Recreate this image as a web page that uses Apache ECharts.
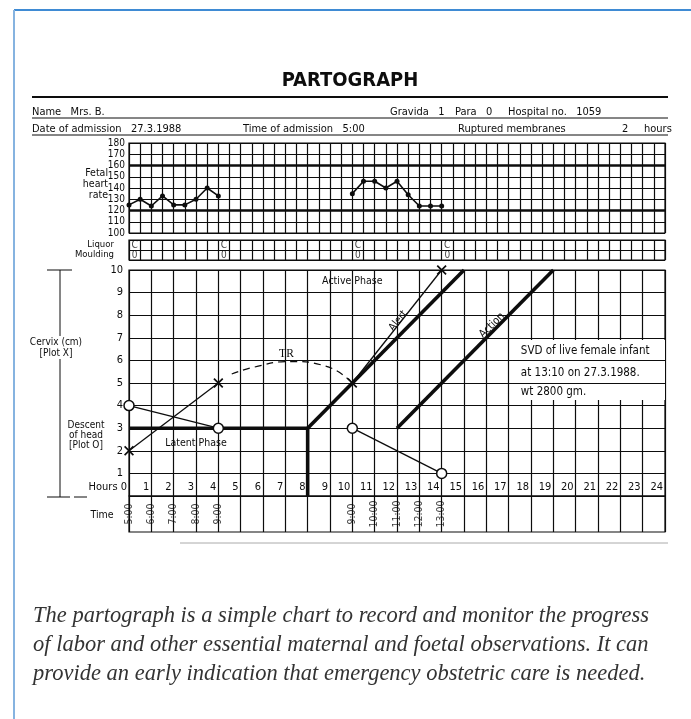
<!DOCTYPE html>
<html><head><meta charset="utf-8">
<script src="https://cdn.jsdelivr.net/npm/echarts@6/dist/echarts.min.js"></script>
<style>html,body{margin:0;padding:0;background:#fff}#c{width:691px;height:719px}</style>
</head><body><div id="c"></div>
<script>
// ---------------- data ----------------
const hourTicks = [0,1,2,3,4,5,6,7,8,9,10,11,12,13,14,15,16,17,18,19,20,21,22,23,24];
const fhrTicks = [100,110,120,130,140,150,160,170,180];
const fhrHoursA = [0,0.5,1,1.5,2,2.5,3,3.5,4];
const fhrRateA  = [125,130,124,133,125,125,130,140,133];
const fhrHoursB = [10,10.5,11,11.5,12,12.5,13,13.5,14];
const fhrRateB  = [135,146,146,140,146,134,124,124,124];
const fhrNormalLimits = [120,160];
const liquorRows = ['Moulding','Liquor'];
const obsHours = [0,4,10,14];
const liquorCodes = ['C','C','C','C'];
const mouldingCodes = ['0','0','0','0'];
const cervixHours = [0,4,10,14];
const cervixCm    = [2,5,5,10];
const descentHours = [0,4,10,14];
const descentFifths = [4,3,3,1];
const latentHours = [0,8];
const latentCm    = [3,3];
const latentEndHours = [8,8];
const latentEndCm    = [3,0];
const alertHours = [8,15];
const alertCm    = [3,10];
const actionHours = [12,19];
const actionCm    = [3,10];
const transferHours = [4.6,5.6,7.2,8.8,10];
const transferCm    = [5.4,5.7,5.95,5.75,5.0];
const timeHours  = [0,1,2,3,4,10,11,12,13,14];
const timeLabels = ['5:00','6:00','7:00','8:00','9:00','9:00','10:00','11:00','12:00','13:00'];
const deliveryNote = ['SVD of live female infant','at 13:10 on 27.3.1988.','wt 2800 gm.'];

// ---------------- helpers ----------------
const zip = (xs, ys) => xs.map((x, i) => [x, ys[i]]);
const NARROW = "'Liberation Sans Narrow','DejaVu Sans Condensed','Liberation Sans',sans-serif";
const INK = '#0d0d0d';
const X0 = 129, XW = 536;
const hMin = hourTicks[0], hMax = hourTicks[hourTicks.length - 1];

const gridStyle = {show:true, borderColor:INK, borderWidth:1.2, backgroundColor:'#fff'};
const splitL = {show:true, lineStyle:{color:INK, width:1.2}};
function xAx(gi, interval, extra) {
  return Object.assign({type:'value', gridIndex:gi, min:hMin, max:hMax, interval,
    axisTick:{show:false}, axisLine:{show:false}, axisLabel:{show:false}, splitLine:splitL}, extra || {});
}
const thick = {color:INK, width:3.6};
function lineSeries(gi, data, extra) {
  return Object.assign({type:'line', xAxisIndex:gi, yAxisIndex:gi, data, symbol:'none',
    lineStyle:{color:INK, width:1.3}, itemStyle:{color:INK}, animation:false, silent:true, z:4}, extra || {});
}
const CROSS = 'path://M0,1.2L1.2,0L5,3.8L8.8,0L10,1.2L6.2,5L10,8.8L8.8,10L5,6.2L1.2,10L0,8.8L3.8,5Z';
const note = (text, coord, extra) => ({coord, symbol:'circle', symbolSize:1, itemStyle:{color:'rgba(0,0,0,0)'},
  label:Object.assign({show:true, formatter:text, position:'inside', color:INK, fontFamily:NARROW, fontSize:10.5}, extra || {})});

const txt = (text, x, y, opt) => ({type:'text', x, y, z:10,
  style:Object.assign({text, font:'11px ' + NARROW, fill:INK, align:'left', verticalAlign:'middle'}, opt || {})});
const ln = (x1, y1, x2, y2, w, c) => ({type:'line', z:9, shape:{x1, y1, x2, y2}, style:{stroke:c || INK, lineWidth:w || 1}});
const CAP = 'italic 22.5px "Liberation Serif", serif';

const option = {
  animation:false,
  backgroundColor:'#fff',
  grid:[
    Object.assign({left:X0, top:143, width:XW, height:90}, gridStyle),
    Object.assign({left:X0, top:240, width:XW, height:20}, gridStyle),
    Object.assign({left:X0, top:270, width:XW, height:226}, gridStyle),
    Object.assign({left:X0, top:496, width:XW, height:36}, gridStyle)
  ],
  xAxis:[
    xAx(0, 0.5),
    xAx(1, 0.5),
    xAx(2, 1, {axisLabel:{show:true, inside:true, margin:3, align:'right', verticalAlign:'bottom',
      padding:[0,2,0,0], fontSize:11, fontFamily:NARROW, color:INK, showMinLabel:true, showMaxLabel:true,
      formatter:v => v === hMin ? 'Hours ' + v : String(v)}}),
    xAx(3, 1)
  ],
  yAxis:[
    {type:'value', gridIndex:0, min:fhrTicks[0], max:fhrTicks[fhrTicks.length-1], interval:fhrTicks[1]-fhrTicks[0],
     axisLine:{show:false}, axisTick:{show:false}, splitLine:splitL,
     axisLabel:{margin:4, fontSize:10, fontFamily:NARROW, color:INK}},
    {type:'category', gridIndex:1, data:liquorRows, axisLine:{show:false}, axisTick:{show:false},
     splitLine:{show:true, interval:0, lineStyle:{color:INK, width:1.2}},
     axisLabel:{margin:15, fontSize:9.5, fontFamily:NARROW, color:INK, interval:0}},
    {type:'value', gridIndex:2, min:0, max:10, interval:1, axisLine:{show:false}, axisTick:{show:false},
     splitLine:splitL, axisLabel:{margin:6, fontSize:11, fontFamily:NARROW, color:INK,
     formatter:v => v === 0 ? '' : String(v)}},
    {type:'value', gridIndex:3, min:0, max:1, show:false, splitLine:{show:false}}
  ],
  series:[
    // fetal heart rate
    lineSeries(0, [], {markLine:{silent:true, symbol:'none', label:{show:false},
      lineStyle:{color:INK, width:2.6, type:'solid'}, data:fhrNormalLimits.map(v => ({yAxis:v}))}}),
    lineSeries(0, zip(fhrHoursA, fhrRateA), {symbol:'circle', symbolSize:5, lineStyle:{color:INK, width:1.6}, z:6}),
    lineSeries(0, zip(fhrHoursB, fhrRateB), {symbol:'circle', symbolSize:5, lineStyle:{color:INK, width:1.6}, z:6}),
    // liquor / moulding
    {type:'scatter', xAxisIndex:1, yAxisIndex:1, silent:true, symbolSize:8, itemStyle:{color:'rgba(0,0,0,0)'},
     data:obsHours.map((h, i) => [h + 0.25, 1, liquorCodes[i]]),
     label:{show:true, position:'inside', formatter:p => p.data[2], fontSize:10, fontFamily:NARROW, color:INK}},
    {type:'scatter', xAxisIndex:1, yAxisIndex:1, silent:true, symbolSize:8, itemStyle:{color:'rgba(0,0,0,0)'},
     data:obsHours.map((h, i) => [h + 0.25, 0, mouldingCodes[i]]),
     label:{show:true, position:'inside', formatter:p => p.data[2], fontSize:10, fontFamily:NARROW, color:INK}},
    // delivery note box (white patch with its ruled lines)
    lineSeries(2, [], {z:2, markArea:{silent:true, itemStyle:{color:'#fff'},
      data:[[{coord:[17.15, 6.9]}, {coord:[hMax, 4.25]}]]}}),
    lineSeries(2, [], {z:3, markLine:{silent:true, symbol:'none', label:{show:false},
      lineStyle:{color:INK, width:1.2, type:'solid'},
      data:[[{coord:[17.15, 6]}, {coord:[hMax, 6]}], [{coord:[17.15, 5]}, {coord:[hMax, 5]}],
            [{coord:[0.2, 9]}, {coord:[3, 9]}]]},
      markPoint:{silent:true, data:[
        note(deliveryNote[0], [17.3, 6.4], {position:'right', fontSize:11.5}),
        note(deliveryNote[1], [17.3, 5.45], {position:'right', fontSize:11.5}),
        note(deliveryNote[2], [17.3, 4.6], {position:'right', fontSize:11.5}),
        note('Active Phase', [8.4, 9.5], {position:'right'}),
        note('Latent Phase', [3.0, 2.35]),
        note('TR', [7.05, 6.3], {fontSize:11.5, fontFamily:"'Liberation Serif',serif"}),
        note('Alert', [12.05, 7.75], {rotate:52}),
        note('Action', [16.25, 7.55], {rotate:45, fontSize:11})
      ]}}),
    // partograph guide lines
    lineSeries(2, zip(latentHours, latentCm), {lineStyle:thick}),
    lineSeries(2, zip(latentEndHours, latentEndCm), {lineStyle:thick}),
    lineSeries(2, zip(alertHours, alertCm), {lineStyle:thick}),
    lineSeries(2, zip(actionHours, actionCm), {lineStyle:thick}),
    // transfer (TR) curve
    lineSeries(2, zip(transferHours, transferCm), {smooth:true, lineStyle:{color:INK, width:1.2, type:[7,5]}}),
    // cervical dilatation (X)
    lineSeries(2, zip(cervixHours.slice(0,2), cervixCm.slice(0,2)), {symbol:CROSS, symbolSize:10, z:6}),
    lineSeries(2, zip(cervixHours.slice(2), cervixCm.slice(2)), {symbol:CROSS, symbolSize:10, z:6}),
    // descent of head (O)
    lineSeries(2, zip(descentHours.slice(0,2), descentFifths.slice(0,2)),
      {symbol:'circle', symbolSize:10, itemStyle:{color:'#fff', borderColor:INK, borderWidth:1.5}, z:6}),
    lineSeries(2, zip(descentHours.slice(2), descentFifths.slice(2)),
      {symbol:'circle', symbolSize:10, itemStyle:{color:'#fff', borderColor:INK, borderWidth:1.5}, z:6}),
    // clock times
    {type:'scatter', xAxisIndex:3, yAxisIndex:3, silent:true, symbolSize:8, itemStyle:{color:'rgba(0,0,0,0)'},
     data:timeHours.map((h, i) => [h, 0.5, timeLabels[i]]),
     label:{show:true, position:'inside', rotate:90, formatter:p => p.data[2], fontSize:10.5, fontFamily:NARROW, color:INK}}
  ],
  graphic:[
    // frame
    ln(14, 10, 691, 10, 2, '#3f8bd4'),
    ln(14, 10, 14, 719, 2, '#86b3e0'),
    // title & header
    txt('PARTOGRAPH', 350, 81, {font:'bold 20px ' + NARROW, align:'center'}),
    ln(32, 97, 668, 97, 2.2),
    txt('Name   Mrs. B.', 32, 112),
    txt('Gravida   1', 390, 112),
    txt('Para   0', 455, 112),
    txt('Hospital no.   1059', 508, 112),
    ln(32, 118, 668, 118, 1),
    txt('Date of admission   27.3.1988', 32, 129),
    txt('Time of admission   5:00', 243, 129),
    txt('Ruptured membranes', 458, 129),
    txt('2', 622, 129),
    txt('hours', 644, 129),
    ln(32, 135, 668, 135, 1),
    // left labels
    txt('Fetal', 108, 173, {align:'right', font:'10.5px ' + NARROW}),
    txt('heart', 108, 184, {align:'right', font:'10.5px ' + NARROW}),
    txt('rate', 108, 195, {align:'right', font:'10.5px ' + NARROW}),
    ln(60, 270, 60, 497, 1),
    ln(47, 270, 72, 270, 1),
    ln(47, 497, 70, 497, 1),
    ln(74, 497, 87, 497, 1),
    txt('Cervix (cm)', 56, 342, {align:'center', font:'10px ' + NARROW, backgroundColor:'#fff', padding:[1,1]}),
    txt('[Plot X]', 56, 353, {align:'center', font:'10px ' + NARROW, backgroundColor:'#fff', padding:[1,1]}),
    txt('Descent', 86, 425, {align:'center', font:'10px ' + NARROW}),
    txt('of head', 86, 435, {align:'center', font:'10px ' + NARROW}),
    txt('[Plot O]', 86, 445, {align:'center', font:'10px ' + NARROW}),
    txt('Time', 102, 515, {align:'center', font:'10.5px ' + NARROW}),
    ln(180, 543, 668, 543, 1, '#aaa'),
    // caption
    txt('The partograph is a simple chart to record and monitor the progress', 33, 616, {font:CAP, fill:'#333'}),
    txt('of labor and other essential maternal and foetal observations. It can', 33, 645, {font:CAP, fill:'#333'}),
    txt('provide an early indication that emergency obstetric care is needed.', 33, 674, {font:CAP, fill:'#333'})
  ]
};
const chart = echarts.init(document.getElementById('c'), null, {renderer:'canvas', width:691, height:719});
chart.setOption(option);
</script></body></html>
